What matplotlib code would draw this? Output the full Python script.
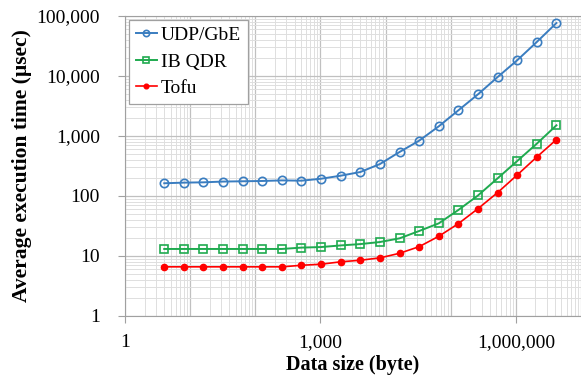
import numpy as np
import matplotlib
matplotlib.use("Agg")
import matplotlib.pyplot as plt
from matplotlib.ticker import FixedLocator, FixedFormatter, LogLocator, NullFormatter

# data sizes 4 .. 4 MiB (powers of two)
data_size = [4, 8, 16, 32, 64, 128, 256, 512, 1024, 2048, 4096, 8192, 16384,
             32768, 65536, 131072, 262144, 524288, 1048576, 2097152, 4194304]

udp_gbe = [163, 167, 169, 174, 176, 178, 182, 180, 194, 218, 251, 341, 541,
           835, 1450, 2680, 4950, 9600, 18300, 36900, 76400]
ib_qdr = [13.1, 13.1, 13.1, 13.1, 13.1, 13.1, 13.1, 13.8, 14.1, 15.0, 15.8,
          17.1, 19.7, 26.1, 35, 58.5, 102, 197, 383, 745, 1507]
tofu = [6.6, 6.6, 6.6, 6.6, 6.6, 6.6, 6.6, 7.0, 7.3, 8.0, 8.5, 9.3, 11.1,
        14.3, 21.3, 34.6, 61.5, 114, 224, 447, 871]

x_ticks = [1, 1000, 1000000]
x_labels = ["1", "1,000", "1,000,000"]
y_ticks = [1, 10, 100, 1000, 10000, 100000]
y_labels = ["1", "10", "100", "1,000", "10,000", "100,000"]

plt.rcParams['font.family'] = ['Liberation Serif', 'DejaVu Serif']

fig = plt.figure(figsize=(5.81, 3.76), dpi=100)
ax = fig.add_axes([125 / 581, 1 - 316 / 376, 456 / 581, 300 / 376])

ax.plot(data_size, udp_gbe, color='#3a7dc0', marker='o', markersize=6,
        markerfacecolor='none', markeredgewidth=1.2, lw=1.4, label='UDP/GbE')
ax.plot(data_size, ib_qdr, color='#1faa4f', marker='s', markersize=6,
        markerfacecolor='none', markeredgewidth=1.2, lw=1.4, label='IB QDR')
ax.plot(data_size, tofu, color='#ff0000', marker='o', markersize=4.5,
        lw=1.2, label='Tofu')

ax.set_xscale('log')
ax.set_yscale('log')
ax.set_xlim(1, 1e7)
ax.set_ylim(1, 1e5)

ax.xaxis.set_major_locator(FixedLocator(x_ticks))
ax.xaxis.set_major_formatter(FixedFormatter(x_labels))
ax.yaxis.set_major_locator(FixedLocator(y_ticks))
ax.yaxis.set_major_formatter(FixedFormatter(y_labels))
ax.xaxis.set_minor_locator(LogLocator(base=10, subs=np.arange(2, 10), numticks=20))
ax.yaxis.set_minor_locator(LogLocator(base=10, subs=np.arange(2, 10), numticks=20))
ax.xaxis.set_minor_formatter(NullFormatter())
ax.yaxis.set_minor_formatter(NullFormatter())

# x major grid every decade, not only at labelled ticks
for d in [10, 100, 10000, 100000]:
    ax.axvline(d, color='#c0c0c0', lw=0.9, zorder=0)
ax.grid(which='major', color='#c0c0c0', lw=0.9)
ax.grid(which='minor', color='#dedede', lw=0.7)
ax.set_axisbelow(True)

ax.tick_params(which='major', length=5, color='#a0a0a0', labelsize=14)
ax.tick_params(which='minor', length=0)
ax.tick_params(axis='x', pad=8)
ax.tick_params(axis='y', pad=13)
for s in ax.spines.values():
    s.set_color('#a0a0a0')

ax.set_xlabel('Data size (byte)', fontsize=14.5, fontweight='bold', labelpad=3)
ax.set_ylabel('Average execution time (µsec)', fontsize=15.5, fontweight='bold', labelpad=3)

leg = ax.legend(loc='upper left', fontsize=14, handlelength=1.1, handletextpad=0.2,
                borderpad=0.35, labelspacing=0.45, fancybox=False, framealpha=1,
                edgecolor='#a0a0a0', borderaxespad=0.2, markerscale=0.75)
leg.get_frame().set_linewidth(0.9)

fig.savefig('out.png', dpi=100)
